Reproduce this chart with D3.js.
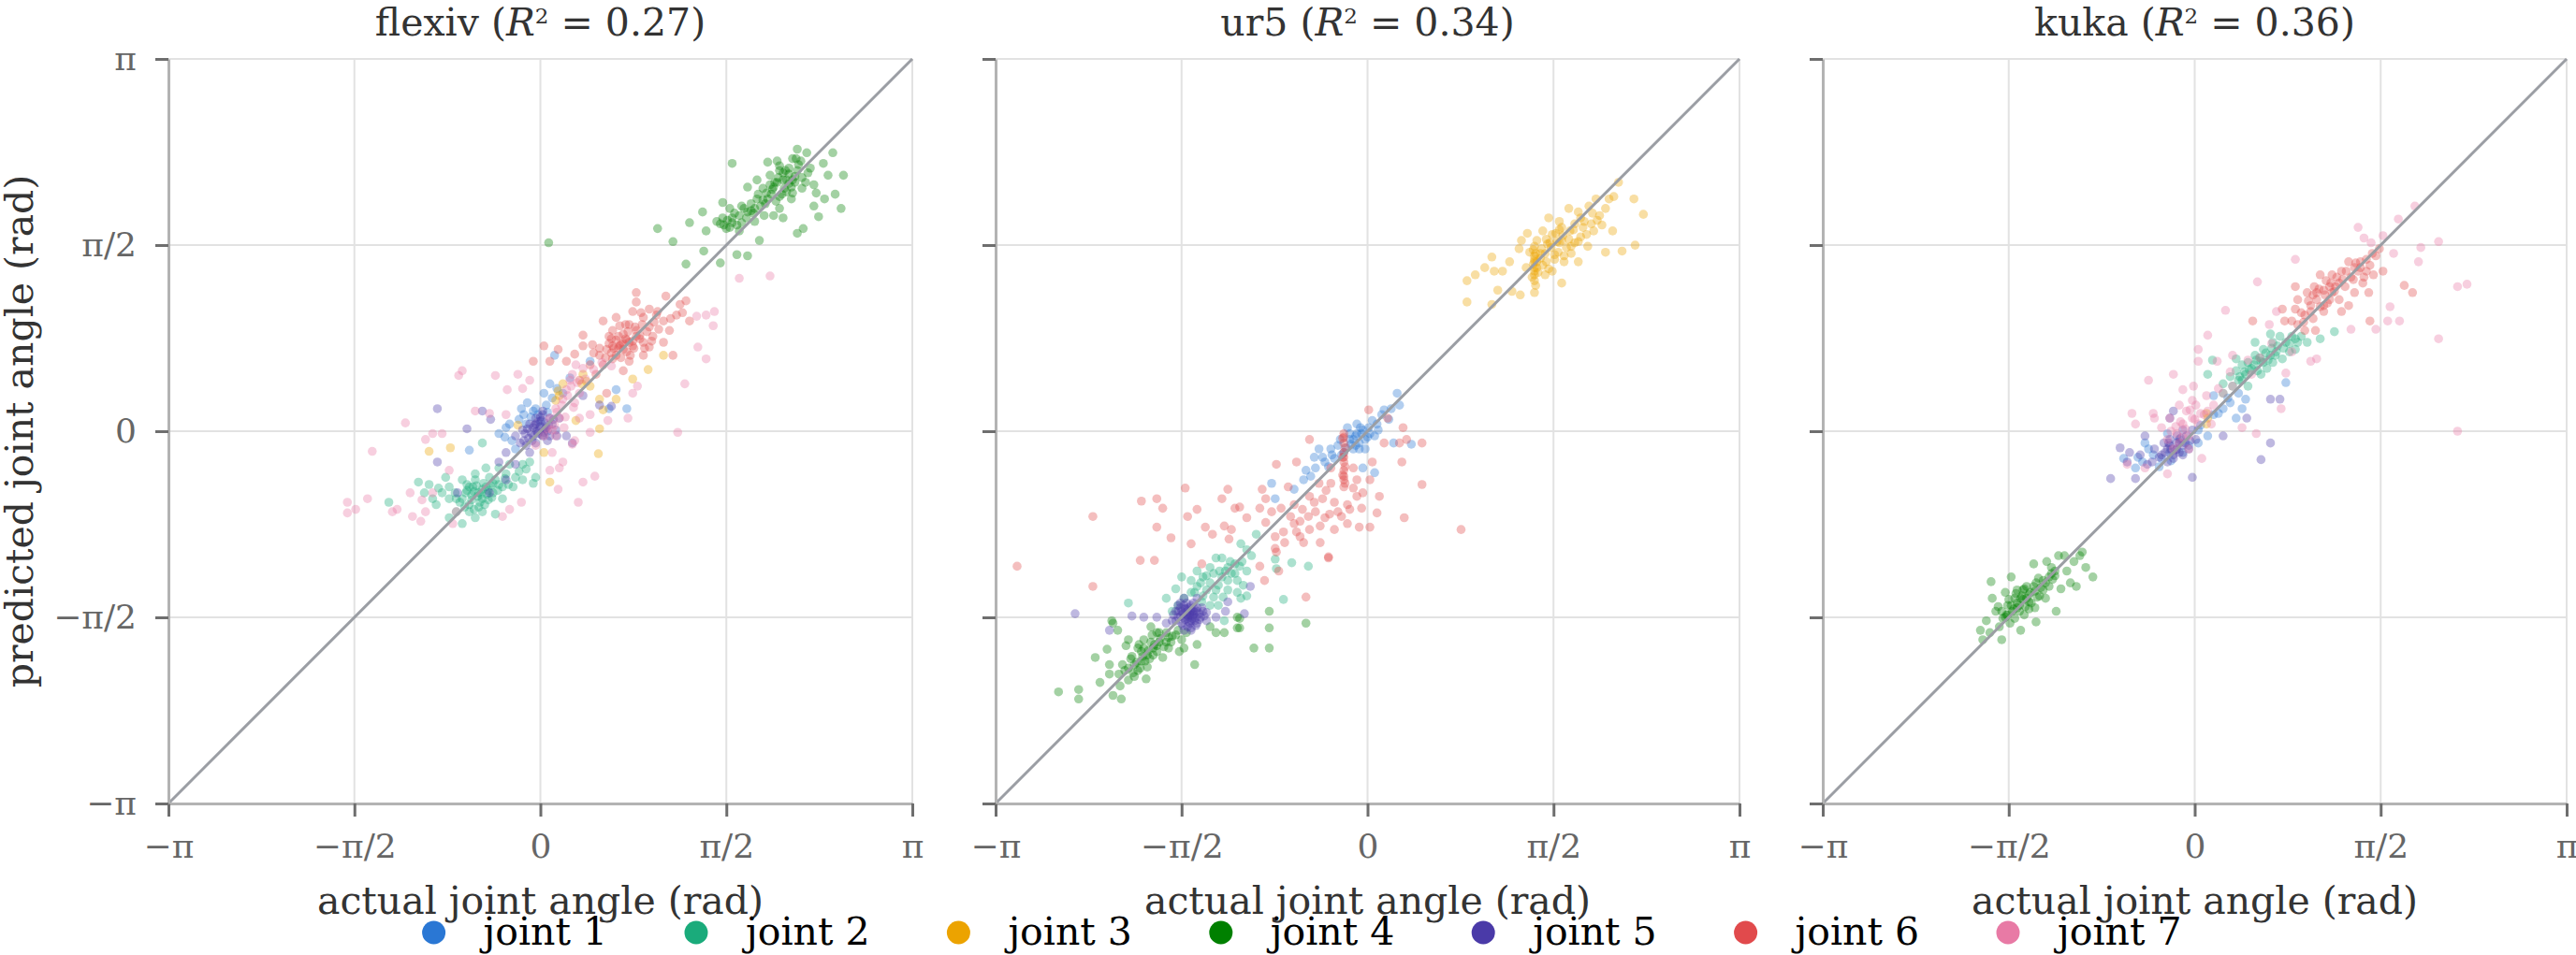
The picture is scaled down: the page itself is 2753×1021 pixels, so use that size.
<!DOCTYPE html>
<html>
<head>
<meta charset="utf-8">
<script src="https://cdn.jsdelivr.net/npm/d3@7"></script>
<style>
  body { margin: 0; background: #fff; }
  text { font-family: "DejaVu Serif", serif; }
</style>
</head>
<body>
<div id="chart"></div>
<script>
// robots and fit scores shown in the panel titles
const robots = ["flexiv", "ur5", "kuka"];
const r2Values = ["0.27", "0.34", "0.36"];
const jointLabels = ["joint 1", "joint 2", "joint 3", "joint 4", "joint 5", "joint 6", "joint 7"];
const jointColors = ["#2a77d4", "#1aab7b", "#eca300", "#008000", "#4a3aa8", "#e14a4c", "#e87aa5"];
const tickValues = [-Math.PI, -Math.PI / 2, 0, Math.PI / 2, Math.PI];
const tickLabels = ["\u2212\u03c0", "\u2212\u03c0/2", "0", "\u03c0/2", "\u03c0"];

// [actual, predicted] in rad
const flexivJ1 = [[-0.35,-0.02],[-0.29,0.03],[-0.26,0.06],[-0.16,0.19],[-0.11,0.24],[0.08,0.40],[0.12,0.64],[0.42,0.59],[0.64,0.35],[0.73,0.19],[0.58,0.19],[-0.60,-0.16],[-0.21,-0.15],[-0.06,0.17],[0.05,0.22],[0.19,0.32],[-0.12,0.06],[-0.04,0.19],[0.03,0.32],[-0.18,0.10],[-0.08,0.12],[0.10,0.28],[0.25,0.45],[-0.30,-0.05],[0.00,0.08],[-0.02,0.14],[0.06,0.16],[-0.14,0.14],[0.14,0.36],[-0.24,-0.08]];
const flexivJ2 = [[-1.28,-0.60],[-1.03,-0.43],[-0.98,-0.52],[-0.91,-0.57],[-0.88,-0.62],[-0.80,-0.39],[-0.77,-0.47],[-0.71,-0.57],[-0.66,-0.41],[-0.63,-0.52],[-0.60,-0.62],[-0.57,-0.47],[-0.55,-0.41],[-0.52,-0.52],[-0.49,-0.57],[-0.46,-0.47],[-0.43,-0.39],[-0.40,-0.52],[-0.38,-0.41],[-0.35,-0.31],[-0.32,-0.47],[-0.29,-0.36],[-0.26,-0.28],[-0.21,-0.39],[-0.15,-0.28],[-0.09,-0.26],[-0.04,-0.39],[-0.06,-0.44],[-0.49,-0.10],[-0.66,-0.78],[-0.55,-0.73],[-0.77,-0.73],[-0.38,-0.70],[-0.49,-0.68],[-0.60,-0.68],[-0.71,-0.68],[-0.55,-0.36],[-0.46,-0.31],[-0.49,-0.49],[-0.50,-0.53],[-0.56,-0.51],[-0.45,-0.53],[-0.40,-0.44],[-0.60,-0.47],[-0.66,-0.57],[-0.32,-0.57],[-0.23,-0.47],[-0.15,-0.41],[-0.77,-0.57],[-0.83,-0.52],[-0.53,-0.55],[-0.51,-0.60],[-0.58,-0.58],[-0.44,-0.58],[-0.62,-0.45],[-0.35,-0.45],[-0.54,-0.46],[-0.48,-0.44],[-0.44,-0.50],[-0.58,-0.54],[-0.62,-0.50],[-0.52,-0.64],[-0.47,-0.62],[-0.41,-0.56],[-0.36,-0.50],[-0.68,-0.60],[-0.72,-0.52],[-0.64,-0.64],[-0.56,-0.66],[-0.42,-0.46],[-0.30,-0.40],[-0.27,-0.45],[-0.18,-0.34],[-0.12,-0.32],[-0.86,-0.48],[-0.94,-0.45]];
const flexivJ3 = [[0.39,0.42],[0.16,0.30],[0.13,0.26],[0.36,0.48],[0.50,0.27],[0.53,0.18],[0.50,0.02],[0.49,-0.19],[1.04,0.64],[0.91,0.52],[0.78,0.44],[0.64,0.27],[-0.19,0.05],[-0.94,-0.17],[-0.76,-0.14],[0.08,-0.43],[0.03,-0.18],[0.30,0.09],[0.19,0.40],[0.42,0.38],[0.15,0.34],[0.35,0.40]];
const flexivJ4 = [[0.07,1.59],[0.99,1.71],[1.12,1.60],[1.38,1.52],[1.52,1.42],[1.66,1.49],[1.75,1.48],[1.62,2.26],[2.47,2.35],[2.56,2.16],[2.54,1.88],[2.35,1.81],[2.17,1.67],[2.22,1.71],[2.17,2.38],[2.49,2.00],[1.26,1.76],[1.37,1.85],[1.40,1.69],[1.85,1.61],[1.92,2.27],[2.02,2.24],[2.39,2.26],[2.43,2.16],[2.31,2.08],[2.31,1.90],[2.40,1.96],[1.75,2.06],[1.54,1.93],[1.68,1.82],[1.81,1.77],[1.97,1.82],[2.05,1.80],[1.90,1.92],[1.68,1.69],[1.52,1.75],[1.57,1.71],[1.70,1.90],[1.83,2.12],[2.13,2.30],[2.25,2.35],[2.21,2.14],[2.10,2.09],[2.01,2.14],[1.97,2.06],[2.13,2.01],[2.02,1.98],[1.91,2.01],[1.83,1.96],[1.75,1.85],[1.62,1.80],[2.17,2.20],[2.07,2.20],[2.13,2.12],[2.06,2.05],[2.21,2.05],[1.94,2.16],[1.99,1.94],[1.89,1.82],[1.60,1.88],[1.49,1.77],[1.81,1.88],[2.02,1.88],[2.28,2.22],[2.33,2.01],[1.23,1.41],[2.10,2.17],[2.05,2.12],[1.98,2.10],[2.15,2.10],[1.95,2.00],[1.88,1.95],[2.08,2.02],[1.58,1.78],[1.64,1.84],[1.72,1.88],[1.78,1.92],[1.55,1.74],[1.62,1.76],[2.00,2.10],[2.05,2.18],[2.10,2.22],[2.15,2.15],[2.12,2.06],[2.04,2.00],[1.96,2.04],[1.92,1.96],[2.08,2.12],[2.18,2.25],[2.02,2.20],[1.86,1.90],[1.80,1.84],[1.74,1.80],[1.66,1.74],[1.60,1.72],[1.54,1.80],[1.70,1.76],[1.78,1.86],[1.84,2.00],[2.20,2.28],[2.00,2.28],[2.26,2.18],[1.94,2.08],[2.12,1.96],[2.24,2.10],[1.88,2.05],[2.16,2.30]];
const flexivJ5 = [[-0.87,0.19],[-0.87,-0.26],[-0.62,0.02],[-0.49,0.17],[-0.42,0.10],[-0.29,-0.18],[-0.35,-0.26],[-0.21,-0.04],[-0.15,0.01],[-0.09,0.06],[-0.04,0.11],[0.02,0.17],[0.08,0.11],[-0.01,0.01],[-0.06,-0.04],[0.05,0.03],[0.10,0.06],[0.02,-0.04],[-0.12,-0.12],[-0.04,-0.10],[-0.09,-0.18],[0.08,-0.04],[0.13,0.01],[-0.04,0.06],[0.01,0.09],[0.03,-0.01],[-0.08,-0.01],[0.16,0.11],[0.22,-0.04],[-0.43,-0.52],[-0.29,-0.41],[-0.21,-0.28],[0.36,0.30],[0.50,0.22],[0.60,0.21],[0.27,-0.10],[-0.70,-0.52],[0.00,0.04],[-0.02,-0.02],[0.04,0.07],[-0.06,0.03],[0.06,0.00],[-0.10,-0.06],[-0.14,-0.08],[-0.03,0.00],[0.01,-0.03],[0.04,0.02],[-0.05,0.05],[0.07,0.05],[-0.11,0.02],[0.00,0.12],[0.06,-0.08],[-0.07,-0.08],[0.11,0.10],[-0.13,-0.02],[0.14,-0.04],[-0.17,-0.10],[0.02,0.14],[-0.02,0.08]];
const flexivJ6 = [[0.81,1.17],[1.06,1.14],[1.23,1.10],[0.92,1.03],[0.78,1.01],[0.53,0.93],[0.64,0.96],[0.36,0.81],[0.44,0.73],[0.58,0.80],[0.70,0.82],[0.81,0.85],[0.92,0.88],[1.04,0.93],[1.15,0.98],[0.99,1.01],[0.87,0.96],[0.75,0.90],[0.67,0.72],[0.73,0.67],[0.61,0.61],[0.53,0.56],[0.78,0.72],[0.87,0.75],[0.95,0.80],[0.56,0.69],[0.64,0.77],[0.50,0.64],[0.42,0.56],[0.75,0.59],[0.87,0.64],[0.70,0.51],[1.12,0.64],[1.09,0.85],[1.26,0.93],[1.18,1.07],[0.61,0.85],[0.84,0.81],[0.73,0.77],[0.67,0.89],[0.92,0.71],[1.04,0.75],[0.36,0.72],[0.29,0.65],[0.22,0.59],[0.03,0.72],[-0.06,0.59],[0.15,0.69],[0.08,0.59],[0.81,1.09],[0.70,0.69],[0.75,0.75],[0.64,0.64],[0.81,0.80],[0.68,0.73],[0.61,0.72],[0.33,0.43],[0.47,0.48],[0.56,0.32],[0.72,0.78],[0.66,0.70],[0.79,0.70],[0.60,0.66],[0.74,0.84],[0.80,0.88],[0.86,0.90],[0.90,0.84],[0.84,0.78],[0.78,0.76],[0.70,0.74],[0.62,0.70],[0.58,0.74],[0.66,0.80],[0.72,0.90],[0.96,0.92],[1.00,0.86],[0.94,0.76],[0.88,0.70],[0.76,0.64],[0.68,0.62],[0.55,0.62],[0.60,0.78],[1.10,0.95],[1.20,1.00],[0.98,0.98],[0.85,1.00],[0.45,0.66],[0.50,0.70]];
const flexivJ7 = [[-0.66,0.51],[-0.69,0.47],[-0.38,0.47],[-0.28,0.35],[-0.19,0.48],[-0.09,0.43],[-0.15,0.36],[-1.14,0.07],[-1.42,-0.17],[-0.91,-0.02],[-0.97,-0.07],[-0.83,-0.02],[-0.55,0.17],[-0.43,0.15],[-0.29,0.14],[-1.63,-0.60],[-1.63,-0.69],[-1.56,-0.66],[-1.46,-0.57],[-1.25,-0.68],[-1.21,-0.66],[-1.10,-0.52],[-1.08,-0.72],[-1.01,-0.76],[-1.00,-0.58],[-0.97,-0.68],[-0.74,-0.78],[-0.71,-0.68],[-0.32,-0.72],[-0.26,-0.66],[-0.16,-0.60],[0.15,-0.49],[0.32,-0.60],[0.36,-0.43],[0.46,-0.38],[0.19,-0.26],[0.16,-0.31],[0.08,-0.33],[0.10,-0.18],[0.29,-0.08],[0.27,-0.11],[0.42,-0.01],[0.74,0.11],[1.16,-0.01],[1.22,0.40],[1.33,0.71],[1.46,0.89],[1.40,0.61],[1.47,1.01],[1.32,0.97],[1.40,0.98],[0.82,0.38],[0.78,0.32],[0.57,0.09],[0.42,0.14],[0.33,0.11],[0.08,0.11],[0.13,0.19],[0.19,0.27],[0.22,0.35],[0.25,0.43],[0.27,0.48],[0.16,0.11],[0.10,0.01],[0.03,-0.04],[0.13,-0.04],[-0.04,-0.12],[0.20,0.03],[0.29,0.24],[0.33,0.32],[0.36,0.53],[0.30,0.56],[-0.77,-0.33],[-0.91,-0.52],[1.68,1.29],[1.94,1.31],[0.18,0.22],[0.23,0.30],[0.26,0.38],[0.14,0.16],[0.31,0.41],[0.21,0.12],[0.12,0.05],[0.06,0.02],[0.38,0.44],[0.45,0.52],[0.52,0.58],[0.60,0.55],[0.28,0.20]];

const ur5J1 = [[0.25,0.32],[0.27,0.22],[0.20,0.19],[0.12,0.14],[0.04,0.09],[0.01,0.03],[-0.04,0.01],[-0.09,-0.02],[-0.15,-0.07],[-0.07,-0.10],[-0.02,-0.15],[-0.12,-0.15],[-0.20,-0.18],[-0.28,-0.23],[-0.36,-0.26],[-0.41,-0.15],[-0.44,-0.31],[-0.52,-0.33],[-0.54,-0.41],[-0.62,-0.49],[-0.81,-0.44],[-0.78,-0.57],[0.06,-0.35],[-0.04,-0.31],[0.06,-0.04],[0.09,0.01],[0.37,-0.11],[0.22,-0.10],[-0.09,0.06],[-0.17,0.03],[-0.23,-0.07],[-0.31,-0.15],[-0.12,-0.07],[-0.07,-0.15],[-0.02,-0.07],[-0.10,-0.04],[-0.05,-0.02],[-0.14,-0.11],[-0.25,-0.12],[0.00,-0.05],[-0.15,-0.02],[-0.10,-0.12],[-0.18,-0.14],[-0.22,-0.20],[-0.30,-0.20],[-0.33,-0.30],[-0.38,-0.22],[-0.06,0.03],[0.02,-0.02],[0.08,0.06],[0.14,0.18],[0.18,0.10],[-0.45,-0.22],[-0.48,-0.38]];
const ur5J2 = [[-2.02,-1.45],[-1.62,-1.33],[-1.57,-1.23],[-1.49,-1.26],[-1.44,-1.31],[-1.39,-1.23],[-1.33,-1.28],[-1.28,-1.34],[-1.28,-1.07],[-1.23,-1.23],[-1.18,-1.15],[-1.18,-1.34],[-1.12,-1.12],[-1.10,-1.26],[-1.07,-0.95],[-1.06,-1.10],[-1.02,-1.18],[-1.02,-1.39],[-1.07,-1.41],[-1.21,-1.60],[-1.26,-1.47],[-1.33,-1.47],[-1.39,-1.39],[-1.49,-1.36],[-1.55,-1.41],[-1.60,-1.47],[-1.70,-1.41],[-1.65,-1.52],[-0.94,-0.87],[-0.78,-1.08],[-0.77,-1.16],[-0.64,-1.11],[-0.50,-1.14],[-0.71,-1.42],[-1.23,-1.07],[-1.18,-1.26],[-1.33,-1.15],[-1.44,-1.18],[-1.41,-1.28],[-1.15,-1.20],[-1.25,-1.18],[-1.36,-1.22],[-1.30,-1.20],[-1.20,-1.18],[-1.12,-1.20],[-1.26,-1.30],[-1.36,-1.34],[-1.16,-1.10],[-1.08,-1.14],[-1.22,-1.40],[-1.40,-1.44],[-1.30,-1.40],[-1.05,-1.30],[-1.10,-1.36],[-0.98,-1.05],[-1.02,-1.00],[-1.46,-1.36]];
const ur5J3 = [[0.84,1.09],[0.84,1.27],[0.91,1.32],[0.99,1.38],[1.05,1.47],[1.07,1.35],[1.05,1.07],[1.10,1.19],[1.14,1.35],[1.20,1.43],[1.22,1.18],[1.28,1.54],[1.29,1.15],[1.30,1.61],[1.34,1.38],[1.35,1.67],[1.37,1.51],[1.41,1.56],[1.41,1.48],[1.41,1.43],[1.41,1.38],[1.41,1.32],[1.41,1.27],[1.42,1.23],[1.41,1.17],[1.43,1.43],[1.43,1.61],[1.47,1.54],[1.48,1.69],[1.51,1.43],[1.53,1.80],[1.54,1.59],[1.56,1.35],[1.59,1.67],[1.61,1.51],[1.62,1.77],[1.64,1.61],[1.64,1.25],[1.66,1.43],[1.70,1.88],[1.71,1.69],[1.72,1.56],[1.75,1.75],[1.78,1.43],[1.78,1.85],[1.80,1.64],[1.83,1.77],[1.86,1.56],[1.87,1.90],[1.91,1.69],[1.93,1.96],[1.96,1.82],[2.01,1.88],[2.04,1.96],[2.07,1.69],[2.01,1.51],[2.12,2.10],[2.15,1.52],[2.25,1.96],[2.26,1.57],[2.33,1.83],[2.08,1.98],[1.46,1.46],[1.50,1.32],[1.62,1.59],[1.58,1.49],[1.51,1.62],[1.43,1.38],[1.39,1.30],[1.75,1.59],[1.89,1.75],[1.80,1.80],[1.64,1.72],[1.41,1.35],[1.41,1.45],[1.40,1.41],[1.50,1.50],[1.55,1.55],[1.60,1.60],[1.65,1.65],[1.70,1.62],[1.68,1.55],[1.58,1.45],[1.52,1.58],[1.46,1.50],[1.74,1.70],[1.82,1.72],[1.85,1.66],[1.78,1.60],[1.62,1.70],[1.56,1.66],[1.48,1.40],[1.53,1.37],[1.66,1.48],[1.72,1.50],[1.94,1.78],[1.98,1.74],[1.90,1.84],[1.42,1.50],[1.40,1.53],[1.44,1.34]];
const ur5J4 = [[-2.61,-2.20],[-2.44,-2.18],[-2.44,-2.26],[-2.30,-1.91],[-2.26,-2.12],[-2.20,-1.84],[-2.18,-1.97],[-2.18,-2.05],[-2.16,-1.60],[-2.15,-2.23],[-2.11,-1.68],[-2.09,-2.15],[-2.08,-2.26],[-2.07,-1.97],[-2.04,-1.81],[-2.02,-1.76],[-2.02,-2.10],[-1.99,-1.90],[-1.97,-2.07],[-1.94,-1.83],[-1.91,-1.94],[-1.89,-1.76],[-1.87,-2.09],[-1.86,-1.89],[-1.83,-1.65],[-1.81,-1.83],[-1.78,-1.70],[-1.76,-1.78],[-1.73,-1.91],[-1.70,-1.70],[-1.68,-1.83],[-1.65,-1.73],[-1.60,-1.68],[-1.59,-1.86],[-1.55,-1.83],[-1.53,-1.70],[-1.46,-1.97],[-1.44,-1.80],[-1.86,-1.99],[-1.91,-1.86],[-1.83,-1.78],[-1.89,-1.83],[-1.78,-1.81],[-1.97,-1.97],[-1.94,-2.02],[-2.02,-2.00],[-1.81,-1.89],[-1.70,-1.78],[-1.76,-1.70],[-2.15,-1.62],[-0.96,-1.83],[-0.83,-1.83],[-0.83,-1.66],[-0.83,-1.52],[-1.08,-1.66],[-1.08,-1.58],[-0.52,-1.62],[-1.28,-1.70],[-1.33,-1.65],[-1.10,-1.57],[-1.10,-1.66],[-1.21,-1.70],[-1.95,-1.95],[-1.90,-1.90],[-1.85,-1.85],[-1.80,-1.80],[-1.75,-1.75],[-1.92,-2.00],[-1.88,-1.94],[-1.84,-1.92],[-1.72,-1.82],[-1.68,-1.74],[-1.62,-1.72],[-2.00,-1.92],[-2.05,-2.02],[-1.98,-2.04],[-1.78,-1.86],[-1.82,-1.72],[-1.66,-1.78],[-1.93,-1.80],[-2.10,-2.05],[-1.57,-1.76]];
const ur5J5 = [[-2.47,-1.54],[-2.18,-1.68],[-1.99,-1.56],[-1.89,-1.57],[-1.78,-1.57],[-1.70,-1.62],[-1.28,-1.57],[-1.20,-1.52],[-1.04,-1.54],[-0.99,-1.31],[-1.18,-1.44],[-1.60,-1.47],[-1.55,-1.47],[-1.49,-1.47],[-1.44,-1.49],[-1.39,-1.52],[-1.62,-1.52],[-1.57,-1.52],[-1.52,-1.52],[-1.47,-1.55],[-1.41,-1.57],[-1.60,-1.57],[-1.55,-1.57],[-1.49,-1.60],[-1.44,-1.62],[-1.57,-1.62],[-1.52,-1.65],[-1.65,-1.60],[-1.47,-1.49],[-1.55,-1.41],[-1.44,-1.41],[-1.36,-1.60],[-1.49,-1.68],[-1.50,-1.55],[-1.52,-1.56],[-1.48,-1.58],[-1.53,-1.50],[-1.46,-1.53],[-1.51,-1.61],[-1.56,-1.54],[-1.45,-1.57],[-1.58,-1.49],[-1.42,-1.54],[-1.54,-1.59],[-1.49,-1.51],[-1.50,-1.53],[-1.48,-1.56],[-1.52,-1.58],[-1.46,-1.60],[-1.54,-1.50],[-1.58,-1.56],[-1.44,-1.52],[-1.50,-1.62],[-1.56,-1.64],[-1.42,-1.59],[-1.60,-1.52],[-1.38,-1.56],[-1.47,-1.45],[-1.53,-1.45],[-1.62,-1.60],[-1.40,-1.49],[-1.49,-1.66],[-1.58,-1.45],[-1.36,-1.53],[-1.64,-1.55],[-1.45,-1.64],[-1.55,-1.68],[-1.51,-1.49],[-1.47,-1.52],[-1.53,-1.55]];
const ur5J6 = [[-0.20,-0.02],[-0.20,-0.10],[-0.20,-0.18],[-0.20,-0.26],[-0.20,-0.33],[-0.20,-0.41],[-0.20,-0.47],[-0.21,-0.06],[-0.19,-0.14],[-0.21,-0.22],[-0.19,-0.30],[-0.21,-0.37],[-0.19,-0.44],[-0.20,-0.05],[-0.20,-0.22],[-0.20,-0.38],[-0.49,-0.07],[0.01,0.18],[0.17,0.11],[0.30,0.03],[0.33,-0.07],[0.46,-0.10],[0.27,-0.10],[0.14,-0.10],[0.04,-0.26],[0.29,-0.26],[0.46,-0.45],[0.02,-0.41],[-0.04,-0.52],[0.08,-0.69],[0.31,-0.73],[0.79,-0.83],[-0.07,-0.81],[0.02,-0.81],[-0.17,-0.78],[-0.28,-0.83],[-0.40,-0.94],[-0.33,-1.06],[-0.49,-0.83],[-0.54,-0.94],[-0.62,-0.78],[-0.57,-0.76],[-0.71,-0.85],[-0.78,-0.99],[-0.77,-0.28],[-0.60,-0.26],[-0.49,-0.55],[-0.38,-0.57],[-0.28,-0.60],[-0.17,-0.62],[-0.09,-0.55],[-0.25,-0.68],[-0.36,-0.73],[-0.44,-0.68],[-0.62,-0.62],[-0.73,-0.65],[-0.81,-0.68],[-0.86,-0.57],[-0.67,-0.47],[-0.41,-0.44],[-0.31,-0.44],[-0.09,-0.41],[-0.12,-0.31],[-0.31,-0.31],[-0.57,-0.89],[-0.70,-0.94],[-2.96,-1.14],[-2.32,-0.72],[-2.32,-1.31],[-1.91,-0.59],[-1.78,-0.57],[-1.73,-0.65],[-1.78,-0.81],[-1.66,-0.90],[-1.92,-1.09],[-1.80,-1.09],[-1.54,-0.48],[-1.52,-0.72],[-1.49,-0.95],[-1.44,-0.66],[-1.40,-1.12],[-1.37,-0.81],[-1.31,-0.87],[-1.23,-0.57],[-1.21,-0.80],[-1.18,-0.49],[-1.15,-0.83],[-1.17,-0.91],[-1.12,-0.65],[-1.08,-0.64],[-1.02,-0.73],[-0.91,-0.65],[-0.89,-0.49],[-0.87,-1.26],[-0.91,-1.14],[-0.86,-0.77],[-0.78,-0.89],[-0.77,-1.02],[-0.75,-1.18],[-0.52,-1.40],[-0.33,-1.07],[-0.45,-0.60],[-0.50,-0.72],[-0.40,-0.80],[-0.32,-0.70],[-0.22,-0.72],[-0.15,-0.66],[-0.55,-0.66],[-0.65,-0.72],[-0.60,-0.85],[-0.35,-0.50],[-0.12,-0.48],[0.10,-0.55],[-0.05,-0.65]];

const kukaJ1 = [[0.77,0.41],[0.43,0.27],[0.37,0.32],[0.30,0.24],[0.24,0.19],[0.16,0.14],[0.11,-0.04],[0.03,-0.10],[-0.05,-0.12],[-0.13,-0.07],[-0.21,-0.18],[-0.28,-0.23],[-0.39,-0.15],[-0.44,-0.26],[-0.50,-0.31],[-0.42,-0.10],[-0.60,-0.23],[0.16,0.30],[0.35,0.11],[0.40,0.19],[-0.23,-0.02],[0.03,0.01],[-0.30,-0.30],[-0.35,-0.20],[-0.20,-0.25],[-0.10,-0.18],[0.05,0.05],[0.20,0.15],[0.28,0.28],[-0.48,-0.22]];
const kukaJ2 = [[0.11,0.48],[0.15,0.60],[0.24,0.40],[0.30,0.46],[0.32,0.38],[0.35,0.51],[0.37,0.43],[0.40,0.56],[0.43,0.48],[0.45,0.38],[0.48,0.53],[0.51,0.64],[0.53,0.51],[0.56,0.59],[0.58,0.69],[0.61,0.53],[0.64,0.64],[0.66,0.75],[0.69,0.67],[0.72,0.80],[0.74,0.61],[0.77,0.75],[0.82,0.80],[0.85,0.69],[0.90,0.80],[0.95,0.75],[1.06,0.78],[1.18,0.84],[0.35,0.61],[0.24,0.32],[0.51,0.75],[0.64,0.82],[0.45,0.58],[0.56,0.48],[0.66,0.58],[0.80,0.67],[0.87,0.75],[0.40,0.43],[0.50,0.56],[0.55,0.62],[0.60,0.66],[0.65,0.70],[0.70,0.72],[0.46,0.52],[0.42,0.50],[0.38,0.46],[0.62,0.60],[0.68,0.64],[0.75,0.70],[0.58,0.58],[0.52,0.60],[0.80,0.74],[0.85,0.78]];
const kukaJ3 = [[0.10,0.15],[0.11,0.11],[0.10,0.06]];
const kukaJ4 = [[-1.81,-1.68],[-1.79,-1.76],[-1.76,-1.60],[-1.73,-1.70],[-1.72,-1.27],[-1.71,-1.41],[-1.68,-1.52],[-1.65,-1.65],[-1.63,-1.76],[-1.60,-1.36],[-1.59,-1.55],[-1.58,-1.47],[-1.56,-1.62],[-1.55,-1.23],[-1.54,-1.52],[-1.52,-1.41],[-1.50,-1.34],[-1.48,-1.47],[-1.47,-1.68],[-1.46,-1.39],[-1.44,-1.55],[-1.42,-1.31],[-1.40,-1.44],[-1.39,-1.36],[-1.36,-1.12],[-1.35,-1.49],[-1.34,-1.28],[-1.34,-1.61],[-1.31,-1.39],[-1.28,-1.26],[-1.26,-1.41],[-1.25,-1.10],[-1.23,-1.31],[-1.21,-1.20],[-1.18,-1.18],[-1.17,-1.52],[-1.15,-1.05],[-1.13,-1.33],[-1.10,-1.05],[-1.08,-1.18],[-1.05,-1.28],[-1.02,-1.10],[-1.00,-1.31],[-0.97,-1.05],[-0.95,-1.02],[-0.92,-1.15],[-0.86,-1.23],[-1.47,-1.41],[-1.50,-1.49],[-1.55,-1.47],[-1.58,-1.55],[-1.51,-1.37],[-1.42,-1.41],[-1.44,-1.33],[-1.63,-1.52],[-1.60,-1.57],[-1.21,-1.15],[-1.23,-1.23],[-1.28,-1.34],[-1.36,-1.31],[-1.50,-1.45],[-1.45,-1.42],[-1.40,-1.38],[-1.35,-1.35],[-1.30,-1.32],[-1.53,-1.50],[-1.48,-1.52],[-1.43,-1.48],[-1.38,-1.45],[-1.33,-1.40],[-1.26,-1.28],[-1.20,-1.25],[-1.57,-1.42],[-1.62,-1.58],[-1.52,-1.58],[-1.45,-1.34],[-1.32,-1.24],[-1.18,-1.22],[-1.66,-1.48],[-1.40,-1.50]];
const kukaJ5 = [[-0.71,-0.40],[-0.63,-0.14],[-0.57,-0.26],[-0.50,-0.40],[-0.42,-0.04],[-0.36,-0.26],[-0.28,-0.20],[-0.23,-0.15],[-0.21,-0.07],[-0.18,-0.23],[-0.15,-0.15],[-0.13,-0.10],[-0.10,-0.20],[-0.07,-0.04],[-0.05,-0.15],[-0.02,-0.39],[0.01,-0.07],[-0.15,-0.04],[-0.26,-0.10],[-0.21,0.11],[-0.18,0.17],[-0.10,0.01],[-0.02,0.01],[0.24,-0.04],[0.44,0.11],[0.64,0.27],[0.72,0.27],[0.64,-0.10],[0.56,-0.24],[-0.55,-0.18],[-0.34,-0.15],[-0.23,-0.26],[-0.13,-0.18],[-0.21,-0.12],[-0.20,-0.15],[-0.15,-0.10],[-0.10,-0.12],[-0.25,-0.18],[-0.18,-0.20],[-0.12,-0.06],[-0.08,-0.10],[-0.30,-0.22],[-0.22,-0.10],[-0.04,-0.08],[-0.16,-0.16],[-0.40,-0.28],[-0.46,-0.20]];
const kukaJ6 = [[0.82,0.93],[0.85,1.03],[0.87,1.11],[0.93,0.98],[0.95,1.17],[0.98,1.06],[1.01,1.22],[1.03,1.11],[1.06,1.32],[1.09,1.01],[1.09,1.19],[1.11,1.27],[1.14,1.11],[1.16,1.32],[1.19,1.22],[1.22,1.11],[1.24,1.35],[1.27,1.22],[1.30,1.43],[1.32,1.30],[1.35,1.17],[1.38,1.35],[1.40,1.43],[1.45,1.35],[1.48,1.40],[1.53,1.48],[1.56,1.54],[1.51,1.32],[1.59,1.35],[1.47,1.17],[1.48,0.93],[1.24,1.01],[1.30,1.06],[0.93,0.85],[0.87,0.90],[0.74,1.03],[0.76,0.93],[0.85,1.22],[1.09,1.06],[1.16,1.17],[1.22,1.25],[1.14,1.22],[1.03,1.17],[0.98,1.01],[1.35,1.38],[1.43,1.30],[0.49,0.93],[1.77,1.23],[1.84,1.17],[1.02,0.85],[1.00,1.15],[1.05,1.20],[1.10,1.15],[1.15,1.25],[1.20,1.30],[1.25,1.28],[1.12,1.08],[1.06,1.05],[0.96,1.10],[0.90,1.00],[1.18,1.18],[1.28,1.35],[1.34,1.28],[1.40,1.38],[1.45,1.45],[1.50,1.50],[1.36,1.42],[1.42,1.25],[0.92,0.92],[1.00,0.95]];
const kukaJ7 = [[1.38,1.72],[1.86,1.90],[1.72,1.79],[1.59,1.65],[1.43,1.63],[1.49,1.59],[1.91,1.55],[2.06,1.60],[1.89,1.43],[1.68,1.50],[0.85,1.45],[0.53,1.26],[0.26,1.02],[0.11,0.81],[0.03,0.69],[0.03,0.59],[-0.18,0.48],[-0.39,0.43],[2.22,1.22],[2.30,1.24],[1.65,1.05],[1.63,0.93],[1.73,0.93],[1.53,0.86],[1.32,0.86],[2.06,0.78],[2.22,0.00],[0.77,0.49],[0.73,0.19],[0.52,-0.02],[0.40,0.03],[0.19,0.59],[0.32,0.64],[0.63,0.90],[0.69,1.01],[1.03,0.61],[0.98,0.59],[0.82,0.67],[0.48,0.48],[0.32,0.38],[0.24,0.32],[0.16,0.22],[0.08,0.14],[0.03,0.06],[-0.02,0.11],[-0.07,0.17],[-0.13,0.22],[-0.10,0.06],[-0.15,-0.02],[-0.05,-0.04],[-0.18,-0.15],[-0.23,-0.07],[-0.28,0.03],[-0.34,0.11],[-0.50,0.06],[-0.53,0.15],[-0.35,0.15],[-0.10,0.35],[-0.01,0.38],[0.06,-0.23],[-0.23,-0.36],[-0.42,-0.31],[-0.57,-0.28],[0.11,0.17],[0.14,0.06],[-0.13,-0.10],[-0.05,-0.15],[0.01,0.22],[-0.21,0.11],[-0.08,0.02],[-0.12,0.08],[0.00,0.10],[-0.04,0.18],[-0.16,0.04],[-0.20,0.00],[0.05,0.15],[-0.10,-0.05],[-0.02,0.26],[0.10,0.30],[0.20,0.36],[0.30,0.50],[0.45,0.60],[0.55,0.62],[0.65,0.74]];

const panelSeries = [
  [flexivJ1, flexivJ2, flexivJ3, flexivJ4, flexivJ5, flexivJ6, flexivJ7],
  [ur5J1, ur5J2, ur5J3, ur5J4, ur5J5, ur5J6],
  [kukaJ1, kukaJ2, kukaJ3, kukaJ4, kukaJ5, kukaJ6, kukaJ7]
];

const width = 2753, height = 1021;
const panelLeft = [180, 1064, 1948];
const plotW = 795, plotH = 796, plotTop = 63;

const svg = d3.select("#chart")
    .append("svg")
    .attr("width", width)
    .attr("height", height)
    .style("background", "#fff");

panelSeries.forEach((series, i) => {
    const x = d3.scaleLinear().domain([-Math.PI, Math.PI]).range([0, plotW]);
    const y = d3.scaleLinear().domain([-Math.PI, Math.PI]).range([plotH, 0]);
    const g = svg.append("g").attr("transform", `translate(${panelLeft[i]},${plotTop})`);

    // grid
    g.selectAll(".gx").data(tickValues).enter().append("line")
        .attr("x1", d => x(d)).attr("x2", d => x(d))
        .attr("y1", 0).attr("y2", plotH)
        .style("stroke", "#e2e2e2").style("stroke-width", 2);
    g.selectAll(".gy").data(tickValues).enter().append("line")
        .attr("x1", 0).attr("x2", plotW)
        .attr("y1", d => y(d)).attr("y2", d => y(d))
        .style("stroke", "#e2e2e2").style("stroke-width", 2);

    // points, joint 1 first
    series.forEach((pts, j) => {
        g.append("g").selectAll("circle")
            .data(pts)
            .enter()
            .append("circle")
            .attr("cx", d => x(d[0]))
            .attr("cy", d => y(d[1]))
            .attr("r", 4.8)
            .style("fill", jointColors[j])
            .style("fill-opacity", 0.36);
    });

    // identity line
    g.append("line")
        .attr("x1", x(-Math.PI)).attr("y1", y(-Math.PI))
        .attr("x2", x(Math.PI)).attr("y2", y(Math.PI))
        .style("stroke", "#9b9ea4").style("stroke-width", 3);

    // axes
    const xAxis = g.append("g")
        .attr("transform", `translate(0,${plotH})`)
        .call(d3.axisBottom(x).tickValues(tickValues)
            .tickFormat((d, k) => tickLabels[k])
            .tickSize(14).tickSizeOuter(0).tickPadding(18));
    const yAxis = g.append("g")
        .call(d3.axisLeft(y).tickValues(tickValues)
            .tickFormat((d, k) => i === 0 ? tickLabels[k] : "")
            .tickSize(14).tickSizeOuter(0).tickPadding(20));

    [xAxis, yAxis].forEach(ax => {
        ax.select(".domain").style("stroke", "#b3b3b3").style("stroke-width", 3);
        ax.selectAll(".tick line").style("stroke", "#6e6e6e").style("stroke-width", 3);
        ax.selectAll(".tick text")
            .style("font-family", "DejaVu Serif")
            .style("font-size", "36px")
            .style("fill", "#666");
    });

    // title
    const title = svg.append("text")
        .attr("x", panelLeft[i] + plotW / 2)
        .attr("y", 38)
        .attr("text-anchor", "middle")
        .style("font-size", "41px")
        .style("fill", "#333");
    title.append("tspan").text(`${robots[i]} (`);
    title.append("tspan").style("font-style", "italic").text("R");
    title.append("tspan").attr("dy", -13).style("font-size", "23px").text("2");
    title.append("tspan").attr("dy", 13).text(` = ${r2Values[i]})`);

    // x label
    svg.append("text")
        .attr("x", panelLeft[i] + plotW / 2)
        .attr("y", 977)
        .attr("text-anchor", "middle")
        .style("font-size", "41px")
        .style("fill", "#333")
        .text("actual joint angle (rad)");
});

// y label
svg.append("text")
    .attr("transform", "translate(35,461) rotate(-90)")
    .attr("text-anchor", "middle")
    .style("font-size", "41px")
    .style("fill", "#333")
    .text("predicted joint angle (rad)");

// legend
const legend = svg.selectAll(".legend")
    .data(jointLabels)
    .enter()
    .append("g")
    .attr("transform", (d, k) => `translate(${463.6 + 280.4 * k},997)`);

legend.append("circle")
    .attr("r", 12.5)
    .style("fill", (d, k) => jointColors[k]);

legend.append("text")
    .attr("x", 53)
    .attr("y", 13)
    .style("font-size", "41px")
    .style("fill", "#000")
    .text(d => d);
</script>
</body>
</html>
